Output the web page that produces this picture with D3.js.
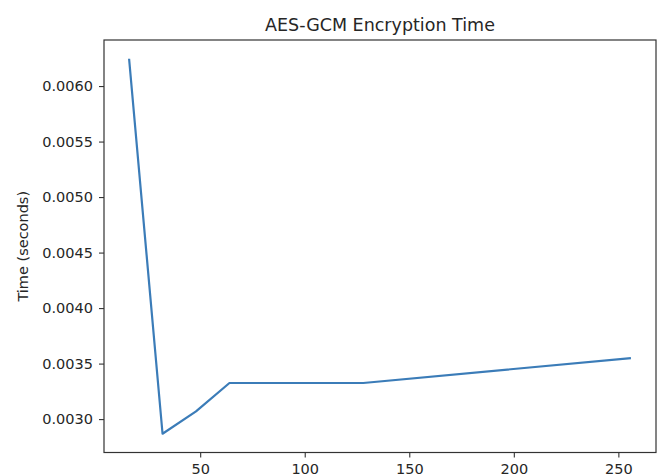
<!DOCTYPE html>
<html>
<head>
<meta charset="utf-8">
<script src="https://cdn.jsdelivr.net/npm/d3@7"></script>
<style>
  html, body { margin: 0; padding: 0; background: #fff; }
  svg { display: block; }
  text { font-family: "DejaVu Sans", sans-serif; fill: #262626; }
</style>
</head>
<body>
<svg id="chart" width="657" height="476"></svg>
<script>
// Message sizes (bytes) and measured AES-GCM encryption time (seconds)
const sizes = [16, 32, 48, 64, 128, 256];
const times = [0.006246, 0.002868, 0.003069, 0.003325, 0.003325, 0.00355];
const xTicks = [50, 100, 150, 200, 250];
const yTicks = [0.0030, 0.0035, 0.0040, 0.0045, 0.0050, 0.0055, 0.0060];
const title = "AES-GCM Encryption Time";
const yLabel = "Time (seconds)";

const W = 657, H = 476;
const m = { left: 104, top: 40, right: 1, bottom: 23.5 };
const plotW = W - m.left - m.right;
const plotH = H - m.top - m.bottom;

const svg = d3.select("#chart");
const g = svg.append("g").attr("transform", `translate(${m.left},${m.top})`);

// 5% padding around the data extent on both axes
const pad = (lo, hi) => { const d = (hi - lo) * 0.05; return [lo - d, hi + d]; };
const x = d3.scaleLinear().domain(pad(d3.min(sizes), d3.max(sizes))).range([0, plotW]);
const y = d3.scaleLinear().domain(pad(d3.min(times), d3.max(times))).range([plotH, 0]);

const data = sizes.map((s, i) => ({ s, t: times[i] }));

const line = d3.line().x(d => x(d.s)).y(d => y(d.t));
g.append("path")
  .datum(data)
  .attr("fill", "none")
  .attr("stroke", "#3b7cb8")
  .attr("stroke-width", 2.2)
  .attr("stroke-linejoin", "round")
  .attr("d", line);

// Axes
const xAxis = g.append("g")
  .attr("transform", `translate(0,${plotH})`)
  .call(d3.axisBottom(x).tickValues(xTicks).tickFormat(d3.format("d")).tickSize(5).tickPadding(6.5));
const yAxis = g.append("g")
  .call(d3.axisLeft(y).tickValues(yTicks).tickFormat(d3.format(".4f")).tickSize(5).tickPadding(6));

[xAxis, yAxis].forEach(a => {
  a.select(".domain").remove();
  a.selectAll(".tick line").attr("stroke", "#333").attr("stroke-width", 1.1);
  a.selectAll(".tick text").style("font-size", "14.5px").attr("fill", "#262626");
});

// Frame
g.append("rect")
  .attr("x", 0).attr("y", 0)
  .attr("width", plotW).attr("height", plotH)
  .attr("fill", "none")
  .attr("stroke", "#333")
  .attr("stroke-width", 1.2);

// Title
svg.append("text")
  .attr("x", m.left + plotW / 2)
  .attr("y", 31)
  .attr("text-anchor", "middle")
  .style("font-size", "17.5px")
  .text(title);

// Y axis label
svg.append("text")
  .attr("transform", `translate(28,${m.top + plotH / 2}) rotate(-90)`)
  .attr("text-anchor", "middle")
  .style("font-size", "14.5px")
  .text(yLabel);
</script>
</body>
</html>
